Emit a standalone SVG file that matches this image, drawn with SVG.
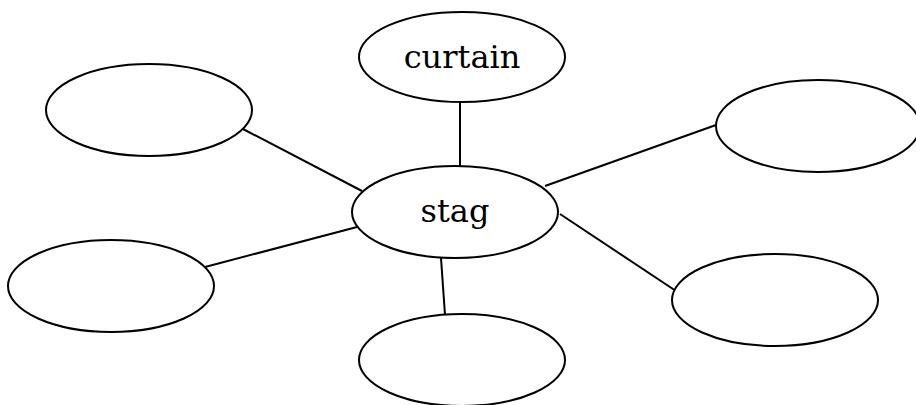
<svg xmlns="http://www.w3.org/2000/svg" width="916" height="405" viewBox="0 0 916 405">
<style>
.n{fill:#fff;stroke:#000;stroke-width:2}
.c line{stroke:#000;stroke-width:2}
text{font-family:"DejaVu Serif","Liberation Serif",serif;font-size:32px;text-anchor:middle;fill:#000}
</style>
<rect width="916" height="405" fill="#fff"/>
<g class="c" id="connectors">
<line x1="460" y1="102" x2="460" y2="167"/>
<line x1="243" y1="129" x2="362" y2="191"/>
<line x1="716" y1="125" x2="545" y2="186"/>
<line x1="205" y1="267" x2="357" y2="227"/>
<line x1="441" y1="258" x2="445" y2="315"/>
<line x1="560" y1="214" x2="676" y2="291"/>
</g>
<g id="stag"><ellipse class="n" cx="455" cy="212" rx="103" ry="46"/><text x="455" y="222">stag</text></g>
<g id="curtain"><ellipse class="n" cx="462" cy="57" rx="103" ry="45"/><text x="462" y="68">curtain</text></g>
<g id="n1"><ellipse class="n" cx="149" cy="110" rx="103" ry="46"/></g>
<g id="n2"><ellipse class="n" cx="818" cy="126" rx="102" ry="46"/></g>
<g id="n3"><ellipse class="n" cx="111" cy="286" rx="103" ry="46"/></g>
<g id="n4"><ellipse class="n" cx="462" cy="360" rx="103" ry="46"/></g>
<g id="n5"><ellipse class="n" cx="775" cy="300" rx="103" ry="46"/></g>
</svg>
